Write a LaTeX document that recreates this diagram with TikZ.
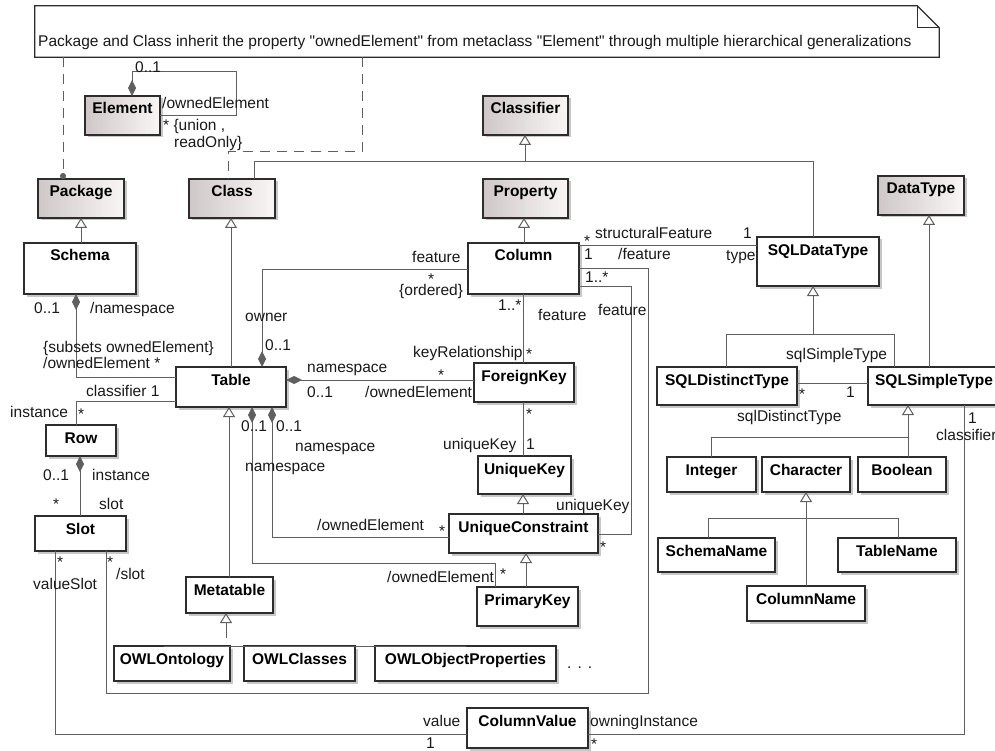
\documentclass[tikz,border=0pt]{standalone}
\usepackage{fontspec}
\setmainfont{Liberation Sans}[Ligatures=TeXOff]
\usetikzlibrary{arrows.meta,shadows,calc}
\definecolor{gdark}{RGB}{208,200,200}
\definecolor{glight}{RGB}{250,247,247}
\definecolor{edge}{RGB}{45,45,45}
\definecolor{wire}{RGB}{95,95,95}
\newcounter{lbc}
\newcommand\lb[3]{\stepcounter{lbc}\node[lbl] (lb\arabic{lbc}) at (#1,{#2+5.5}) {#3};}
\newcommand\umlbox[7][box]{\node[#1, minimum width={(#5-#3)*1pt}, minimum height={(#6-#4)*1pt}, label={[nametext, name=#2-n]north:#7}] (#2) at ({(#3+#5)/2},{(#4+#6)/2}) {};}
\begin{document}
\begin{tikzpicture}[x=1pt,y=-1pt,
  box/.style={draw=edge, line width=1.2pt, fill=white, inner sep=0pt, outer sep=0pt,
    drop shadow={shadow xshift=2.5pt, shadow yshift=-2.5pt, fill=black, opacity=0.22}},
  gbox/.style={box, path picture={
    \foreach \k in {0,...,24}{
      \pgfmathtruncatemacro\mixpct{100-\k*4}
      \fill[gdark!\mixpct!glight]
        ($(path picture bounding box.south west)!{\k/25}!(path picture bounding box.south east)$)
        rectangle ($(path picture bounding box.north west)!{(\k+1.2)/25}!(path picture bounding box.north east)$);
    }}},
  nametext/.style={anchor=base, yshift=-18pt, inner sep=0pt, font=\fontsize{15.5}{18}\selectfont\bfseries, text=black},
  lbl/.style={anchor=base west, inner sep=0pt, font=\fontsize{15.5}{18}\selectfont, text=black!90},
  conn/.style={draw=wire, line width=1pt},
  gen/.style={conn, -{Triangle[open, length=10pt, width=12pt, fill=white]}},
  comp/.style={conn, {Diamond[length=16pt, width=8pt, fill=wire]}-},
  dashl/.style={conn, dash pattern=on 10pt off 7pt},
  notebox/.style={draw=edge, line width=1.2pt, fill=white}
]
\fill[white] (0,0) rectangle (995,751);
\useasboundingbox (0,0) rectangle (995,751);

% ---------- note ----------
\node[minimum width=904pt, minimum height=51pt, inner sep=0pt] (note) at (487,31.5) {};
\draw[notebox] (note.north west) -- ([xshift=-22pt]note.north east) -- ([yshift=-22pt]note.north east)
  -- (note.south east) -- (note.south west) -- cycle;
\draw[edge, line width=1.2pt] ([xshift=-22pt]note.north east) |- ([yshift=-22pt]note.north east);
\node[lbl] (notetext) at (38,46.5) {Package and Class inherit the property "ownedElement" from metaclass "Element" through multiple hierarchical generalizations};

% ---------- boxes ----------
\umlbox[gbox]{Element}{85}{96}{160}{135}{Element}
\umlbox[gbox]{Classifier}{483}{96}{568}{135}{Classifier}
\umlbox[gbox]{Package}{38}{179}{124}{218}{Package}
\umlbox[gbox]{Class}{189}{179}{275}{218}{Class}
\umlbox[gbox]{Property}{483}{179}{568}{218}{Property}
\umlbox[gbox]{DataType}{878}{176}{964}{215}{DataType}
\umlbox{Schema}{24}{243}{136}{294}{Schema}
\umlbox{Column}{468}{243}{579}{294}{Column}
\umlbox{SQLDataType}{757}{237}{879}{286}{SQLDataType}
\umlbox{Table}{176}{367}{286}{407}{Table}
\umlbox{ForeignKey}{474}{363}{574}{402}{ForeignKey}
\umlbox{UniqueKey}{478}{456}{571}{494}{UniqueKey}
\umlbox{UniqueConstraint}{449}{514}{598}{553}{UniqueConstraint}
\umlbox{PrimaryKey}{477}{587}{578}{626}{PrimaryKey}
\umlbox{Row}{46}{425}{116}{456}{Row}
\umlbox{Slot}{35}{516}{126}{551}{Slot}
\umlbox{Metatable}{186}{577}{273}{613}{Metatable}
\umlbox{OWLOntology}{114}{646}{230}{681}{OWLOntology}
\umlbox{OWLClasses}{244}{646}{355}{681}{OWLClasses}
\umlbox{OWLObjectProperties}{375}{646}{556}{681}{OWLObjectProperties}
\umlbox{ColumnValue}{467}{708}{588}{748}{ColumnValue}
\umlbox{SQLDistinctType}{657}{367}{797}{405}{SQLDistinctType}
\umlbox{SQLSimpleType}{868}{367}{1000}{405}{SQLSimpleType}
\umlbox{Integer}{667}{457}{756}{492}{Integer}
\umlbox{Character}{762}{457}{850}{492}{Character}
\umlbox{Boolean}{858}{457}{946}{492}{Boolean}
\umlbox{SchemaName}{658}{538}{775}{572}{SchemaName}
\umlbox{TableName}{838}{538}{956}{572}{TableName}
\umlbox{ColumnName}{747}{586}{865}{621}{ColumnName}
\node[lbl] (dots) at (567,668.5) {.\hspace{6pt}.\hspace{6pt}.};

% ---------- note anchors ----------
\draw[dashl, -{Circle[length=6pt]}] (note.south -| 63,0) -- (Package.north -| 63,0);
\draw[dashl] (note.south -| 362,0) |- (228,152) -- (Class.north -| 228,0);

% ---------- generalizations ----------
\coordinate (cjn) at (525,162);
\draw[conn] (Class.north -| 254,0) |- (cjn);
\draw[conn] (SQLDataType.north -| 813,0) |- (cjn);
\draw[gen] (cjn) -- (Classifier.south -| cjn);
\draw[gen] (Column.north -| 524,0) -- (Property.south -| 524,0);
\draw[gen] (Schema.north -| 81,0) -- (Package.south -| 81,0);
\draw[gen] (Table.north -| 231,0) -- (Class.south -| 231,0);
\draw[gen] (Metatable.north -| 229,0) -- (Table.south -| 229,0);
\draw[gen] (SQLSimpleType.north -| 929,0) -- (DataType.south -| 929,0);
\coordinate (sdj) at (813,334);
\draw[conn] (SQLDistinctType.north -| 726,0) |- (sdj);
\draw[conn] (SQLSimpleType.north -| 894,0) |- (sdj);
\draw[gen] (sdj) -- (SQLDataType.south -| sdj);
\coordinate (ssj) at (908,437);
\draw[conn] (Integer.north -| 711,0) |- (ssj);
\draw[conn] (Character.north -| 806,0) -- (Character.north -| 806,437);
\draw[conn] (Boolean.north -| 908,0) -- (ssj);
\draw[gen] (ssj) -- (SQLSimpleType.south -| ssj);
\coordinate (chj) at (806,518);
\draw[conn] (SchemaName.north -| 708,0) |- (chj);
\draw[conn] (TableName.north -| 898,0) |- (chj);
\draw[conn] (ColumnName.north -| 806,0) -- (chj);
\draw[gen] (chj) -- (Character.south -| chj);
\draw[gen] (UniqueConstraint.north -| 523,0) -- (UniqueKey.south -| 523,0);
\draw[gen] (PrimaryKey.north -| 526,0) -- (UniqueConstraint.south -| 526,0);
\coordinate (mj) at (226,638);
\draw[conn] (OWLOntology.north -| 164,0) |- (OWLObjectProperties.north -| 466,638) -- (OWLObjectProperties.north -| 466,0);
\draw[conn] (OWLClasses.north -| 299,0) -- (OWLClasses.north -| 299,638);
\draw[gen] (mj) -- (Metatable.south -| mj);

% ---------- associations ----------
\draw[comp] (Element.north -| 132,0) |- (236,72) |- (Element.east |- 0,116);
\draw[comp] (Schema.south -| 76,0) |- (Table.west |- 0,377);
\draw[conn] (Table.west |- 0,401) -| (Row.north -| 76,0);
\draw[comp] (Row.south -| 80,0) -- (Slot.north -| 80,0);
\draw[conn] (Slot.south -| 106,0) |- (648,693) |- (Column.east |- 0,268);
\draw[conn] (Slot.south -| 55,0) |- (ColumnValue.west |- 0,734);
\draw[conn] (ColumnValue.east |- 0,734) -| (SQLSimpleType.south -| 964,0);
\draw[comp] (Table.north -| 262,0) |- (Column.west |- 0,269);
\draw[comp] (Table.east |- 0,380) -- (ForeignKey.west |- 0,380);
\draw[comp] (Table.south -| 272,0) |- (UniqueConstraint.west |- 0,537);
\draw[comp] (Table.south -| 252,0) |- (495,563) -- (PrimaryKey.north -| 495,0);
\draw[conn] (Column.south -| 523,0) -- (ForeignKey.north -| 523,0);
\draw[conn] (ForeignKey.south -| 523,0) -- (UniqueKey.north -| 523,0);
\draw[conn] (Column.east |- 0,286) -| (631,534) -- (UniqueConstraint.east |- 0,534);
\draw[conn] (Column.east |- 0,246) -- (SQLDataType.west |- 0,246);
\draw[conn] (SQLDistinctType.east |- 0,383) -- (SQLSimpleType.west |- 0,383);

% ---------- role labels ----------
\lb{135}{67}{0..1}
\lb{162}{103}{/ownedElement}
\lb{163}{125}{* \{union ,}
\lb{174}{142}{readOnly\}}
\lb{34}{308}{0..1}
\lb{90}{308}{/namespace}
\lb{43}{347}{\{subsets ownedElement\}}
\lb{43}{363}{/ownedElement *}
\lb{86}{391}{classifier 1}
\lb{10}{412}{instance}
\lb{78}{414}{*}
\lb{43}{475}{0..1}
\lb{92}{475}{instance}
\lb{53}{504}{*}
\lb{99}{504}{slot}
\lb{57}{562}{*}
\lb{33}{584}{valueSlot}
\lb{107}{562}{*}
\lb{116}{574}{/slot}
\lb{423}{721}{value}
\lb{426}{743}{1}
\lb{590}{721}{owningInstance}
\lb{591}{744}{*}
\lb{968}{418}{1}
\lb{936}{435}{classifier}
\lb{245}{316}{owner}
\lb{265}{345}{0..1}
\lb{412}{257}{feature}
\lb{428}{279}{*}
\lb{399}{290}{\{ordered\}}
\lb{307}{367}{namespace}
\lb{307}{392}{0..1}
\lb{438}{375}{*}
\lb{365}{392}{/ownedElement}
\lb{241}{426}{0..1}
\lb{276}{426}{0..1}
\lb{295}{446}{namespace}
\lb{245}{466}{namespace}
\lb{317}{525}{/ownedElement}
\lb{439}{531}{*}
\lb{387}{577}{/ownedElement}
\lb{500}{574}{*}
\lb{498}{305}{1..*}
\lb{538}{315}{feature}
\lb{413}{352}{keyRelationship}
\lb{526}{354}{*}
\lb{526}{414}{*}
\lb{443}{444}{uniqueKey}
\lb{526}{444}{1}
\lb{585}{277}{1..*}
\lb{598}{310}{feature}
\lb{556}{505}{uniqueKey}
\lb{600}{547}{*}
\lb{584}{241}{*}
\lb{584}{254}{1}
\lb{595}{233}{structuralFeature}
\lb{743}{233}{1}
\lb{726}{255}{type}
\lb{618}{254}{/feature}
\lb{786}{354}{sqlSimpleType}
\lb{799}{394}{*}
\lb{846}{392}{1}
\lb{737}{416}{sqlDistinctType}
\end{tikzpicture}
\end{document}
